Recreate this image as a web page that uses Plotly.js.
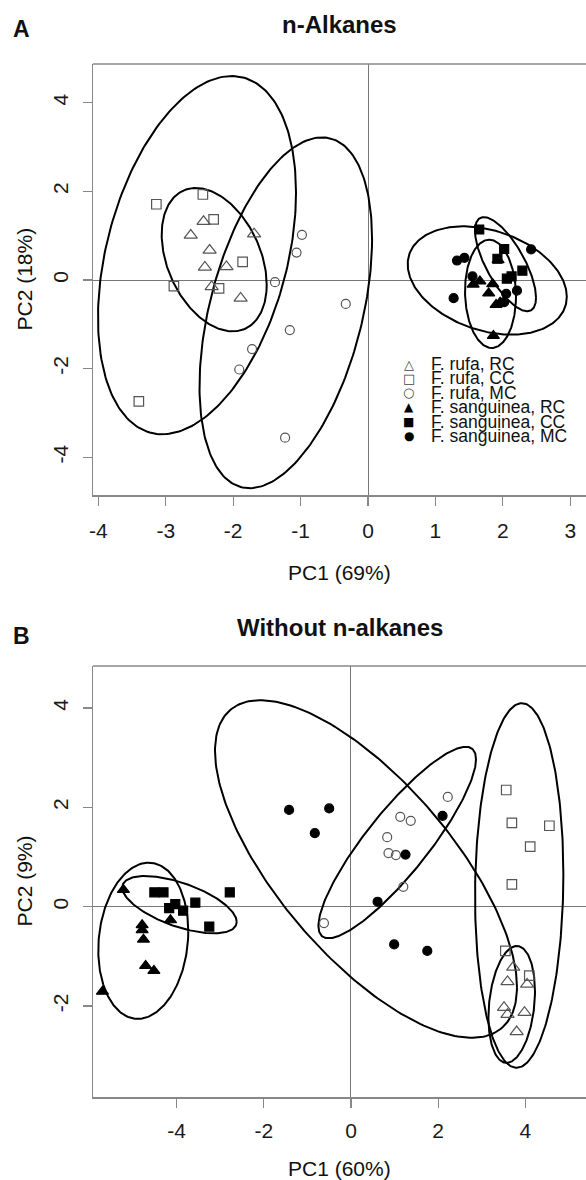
<!DOCTYPE html>
<html>
<head>
<meta charset="utf-8">
<script src="https://cdn.plot.ly/plotly-3.0.1.min.js"></script>
<style>html,body{margin:0;padding:0;background:#fff;} #chart{width:586px;height:1180px;}</style>
</head>
<body>
<div id="chart"></div>
<script>
// ---------- Panel A: n-Alkanes (PC1 69%, PC2 18%) ----------
const A_rufaRC_x = [-2.44, -2.63, -1.69, -2.35, -2.42, -2.10, -2.32, -1.89];
const A_rufaRC_y = [1.32, 1.01, 1.04, 0.67, 0.29, 0.30, -0.15, -0.41];
const A_rufaCC_x = [-3.14, -2.45, -2.29, -1.86, -2.88, -2.21, -3.40];
const A_rufaCC_y = [1.71, 1.93, 1.37, 0.41, -0.14, -0.19, -2.74];
const A_rufaMC_x = [-0.98, -1.06, -1.38, -0.33, -1.16, -1.72, -1.91, -1.23];
const A_rufaMC_y = [1.02, 0.62, -0.05, -0.54, -1.13, -1.56, -2.02, -3.56];
const A_sangRC_x = [1.93, 1.56, 1.66, 1.85, 1.79, 1.90, 1.96, 1.86];
const A_sangRC_y = [0.45, -0.10, -0.03, -0.09, -0.30, -0.56, -0.51, -1.26];
const A_sangCC_x = [1.65, 2.02, 1.92, 2.29, 2.13, 2.06];
const A_sangCC_y = [1.14, 0.70, 0.48, 0.21, 0.08, 0.03];
const A_sangMC_x = [2.42, 1.32, 1.43, 1.55, 2.21, 2.05, 1.27, 2.02];
const A_sangMC_y = [0.69, 0.44, 0.50, 0.08, -0.24, -0.31, -0.41, -0.50];

// ellipses A: centre, half-width, half-height, correlation
const A_ell_cx = [-2.282, -2.537, -1.22, 1.817, 2.040, 1.769];
const A_ell_cy = [0.459, 0.561, -0.74, -0.312, 0.357, -0.011];
const A_ell_hw = [0.779, 1.469, 1.28, 0.378, 0.4525, 1.180];
const A_ell_hh = [1.618, 4.043, 3.96, 1.222, 1.063, 1.222];
const A_ell_r  = [-0.35, 0.35, 0.42, -0.05, -0.71, -0.30];

// ---------- Panel B: Without n-alkanes (PC1 60%, PC2 9%) ----------
const B_rufaRC_x = [3.72, 3.59, 4.04, 3.51, 3.59, 3.98, 3.80];
const B_rufaRC_y = [-1.22, -1.51, -1.56, -2.03, -2.17, -2.13, -2.52];
const B_rufaCC_x = [3.56, 3.69, 4.55, 4.11, 3.69, 3.54, 4.09];
const B_rufaCC_y = [2.35, 1.69, 1.63, 1.21, 0.45, -0.89, -1.39];
const B_rufaMC_x = [2.22, 1.13, 1.37, 0.83, 0.86, 1.03, 1.20, -0.62];
const B_rufaMC_y = [2.21, 1.81, 1.73, 1.40, 1.08, 1.04, 0.40, -0.33];
const B_sangRC_x = [-5.22, -5.70, -4.79, -4.79, -4.76, -4.71, -4.52, -4.14];
const B_sangRC_y = [0.34, -1.71, -0.37, -0.47, -0.66, -1.19, -1.29, -0.27];
const B_sangCC_x = [-4.51, -4.30, -4.03, -4.17, -3.85, -3.57, -3.25, -2.78];
const B_sangCC_y = [0.29, 0.29, 0.05, -0.03, -0.08, 0.08, -0.40, 0.29];
const B_sangMC_x = [-1.42, -0.50, -0.83, 2.10, 1.25, 0.61, 0.99, 1.75];
const B_sangMC_y = [1.95, 1.98, 1.48, 1.83, 1.05, 0.10, -0.76, -0.89];

const B_ell_cx = [3.686, 3.858, 1.06, -4.764, -3.933, 0.344];
const B_ell_cy = [-1.968, 0.427, 1.292, -0.686, 0.04, 0.759];
const B_ell_hw = [0.534, 1.013, 1.807, 1.032, 1.312, 3.463];
const B_ell_hh = [1.177, 3.672, 1.928, 1.573, 0.577, 3.40];
const B_ell_r  = [0.22, 0.06, 0.87, 0.12, -0.60, -0.70];

// tick values
const A_xticks = [-4, -3, -2, -1, 0, 1, 2, 3];
const A_yticks = [-4, -2, 0, 2, 4];
const B_xticks = [-4, -2, 0, 2, 4];
const B_yticks = [-2, 0, 2, 4];

// legend
const legendSymbols = ['\u25B3', '\u25A1', '\u25CB', '\u25B2', '\u25A0', '\u25CF'];
const legendLabels = ['F. rufa, RC', 'F. rufa, CC', 'F. rufa, MC',
                      'F. sanguinea, RC', 'F. sanguinea, CC', 'F. sanguinea, MC'];

// ---------- build ----------
const W = 586, H = 1180;
const FONT = 'Liberation Sans, Arial, sans-serif';
const px = v => v / W;
const py = v => 1 - v / H;
const GREY = '#555';

const styles = {
  rufaRC: {symbol: 'triangle-up-open', size: 11.5, color: GREY},
  rufaCC: {symbol: 'square-open', size: 9.5, color: GREY},
  rufaMC: {symbol: 'circle-open', size: 9, color: GREY},
  sangRC: {symbol: 'triangle-up', size: 10.5, color: '#000'},
  sangCC: {symbol: 'square', size: 9, color: '#000'},
  sangMC: {symbol: 'circle', size: 9, color: '#000'}
};

function pts(x, y, st, name, xa, ya) {
  return {type: 'scatter', mode: 'markers', x: x, y: y, xaxis: xa, yaxis: ya,
    name: name, showlegend: false, hoverinfo: 'skip',
    marker: {symbol: st.symbol, size: st.size, color: st.color,
             line: {color: st.color, width: 1.2}}};
}

function ellipse(cx, cy, hw, hh, r, xa, ya) {
  const phi = Math.acos(r);
  const xs = [], ys = [];
  const n = 240;
  for (let i = 0; i <= n; i++) {
    const t = 2 * Math.PI * i / n;
    xs.push(cx + hw * Math.cos(t));
    ys.push(cy + hh * Math.cos(t - phi));
  }
  return {type: 'scatter', mode: 'lines', x: xs, y: ys, xaxis: xa, yaxis: ya,
    showlegend: false, hoverinfo: 'skip', line: {color: '#000', width: 2}};
}

const data = [];
for (let i = 0; i < A_ell_cx.length; i++)
  data.push(ellipse(A_ell_cx[i], A_ell_cy[i], A_ell_hw[i], A_ell_hh[i], A_ell_r[i], 'x', 'y'));
for (let i = 0; i < B_ell_cx.length; i++)
  data.push(ellipse(B_ell_cx[i], B_ell_cy[i], B_ell_hw[i], B_ell_hh[i], B_ell_r[i], 'x2', 'y2'));

data.push(pts(A_rufaRC_x, A_rufaRC_y, styles.rufaRC, legendLabels[0], 'x', 'y'));
data.push(pts(A_rufaCC_x, A_rufaCC_y, styles.rufaCC, legendLabels[1], 'x', 'y'));
data.push(pts(A_rufaMC_x, A_rufaMC_y, styles.rufaMC, legendLabels[2], 'x', 'y'));
data.push(pts(A_sangRC_x, A_sangRC_y, styles.sangRC, legendLabels[3], 'x', 'y'));
data.push(pts(A_sangCC_x, A_sangCC_y, styles.sangCC, legendLabels[4], 'x', 'y'));
data.push(pts(A_sangMC_x, A_sangMC_y, styles.sangMC, legendLabels[5], 'x', 'y'));

data.push(pts(B_rufaRC_x, B_rufaRC_y, styles.rufaRC, legendLabels[0], 'x2', 'y2'));
data.push(pts(B_rufaCC_x, B_rufaCC_y, styles.rufaCC, legendLabels[1], 'x2', 'y2'));
data.push(pts(B_rufaMC_x, B_rufaMC_y, styles.rufaMC, legendLabels[2], 'x2', 'y2'));
data.push(pts(B_sangRC_x, B_sangRC_y, styles.sangRC, legendLabels[3], 'x2', 'y2'));
data.push(pts(B_sangCC_x, B_sangCC_y, styles.sangCC, legendLabels[4], 'x2', 'y2'));
data.push(pts(B_sangMC_x, B_sangMC_y, styles.sangMC, legendLabels[5], 'x2', 'y2'));

const tickFont = {family: FONT, size: 21, color: '#1a1a1a'};
function common(domain, range, ticks, anchor) {
  return {domain: domain, range: range, anchor: anchor,
    tickmode: 'array', tickvals: ticks, ticktext: ticks.map(v => String(v)),
    showgrid: false, zeroline: true, zerolinecolor: '#777', zerolinewidth: 1,
    showline: true, linecolor: '#888', linewidth: 1.5, mirror: false,
    ticks: 'outside', ticklen: 9, tickwidth: 1.2, tickcolor: '#888',
    tickfont: tickFont, fixedrange: true};
}
function xax(domain, range, ticks, anchor, standoff) {
  return Object.assign(common(domain, range, ticks, anchor), {ticklabelstandoff: standoff});
}
function yax(domain, range, ticks, anchor) {
  return Object.assign(common(domain, range, ticks, anchor), {tickangle: -90, ticklabelstandoff: 6});
}

const annotations = [];
function ann(text, x, y, size, bold, extra) {
  const a = Object.assign({text: bold ? '<b>' + text + '</b>' : text,
    x: px(x), y: py(y), xref: 'paper', yref: 'paper', showarrow: false,
    xanchor: 'center', yanchor: 'middle',
    font: {family: FONT, size: size, color: '#111'}}, extra || {});
  annotations.push(a);
}
ann('A', 21, 29, 23, true);
ann('n-Alkanes', 339.5, 25, 24, true);
ann('PC1 (69%)', 339.5, 572, 21, false);
ann('PC2 (18%)', 24, 279.5, 21, false, {textangle: -90});
ann('B', 21, 636, 23, true);
ann('Without n-alkanes', 339.5, 627, 24, true);
ann('PC1 (60%)', 339.5, 1168, 21, false);
ann('PC2 (9%)', 24, 881.5, 21, false, {textangle: -90});

for (let i = 0; i < legendLabels.length; i++) {
  const yy = 364 + 14.4 * i;
  const open = i < 3;
  annotations.push({text: legendSymbols[i], x: px(409), y: py(yy), xref: 'paper', yref: 'paper',
    showarrow: false, xanchor: 'center', yanchor: 'middle',
    font: {family: 'DejaVu Sans', size: open ? 13 : 12, color: open ? '#444' : '#000'}});
  annotations.push({text: legendLabels[i], x: px(429), y: py(yy), xref: 'paper', yref: 'paper',
    showarrow: false, xanchor: 'left', yanchor: 'middle',
    font: {family: FONT, size: 17.5, color: '#111'}});
}

const shapes = [
  {type: 'line', xref: 'paper', yref: 'paper', x0: px(93), x1: 1.02, y0: py(64), y1: py(64),
   line: {color: '#888', width: 1.5}},
  {type: 'line', xref: 'paper', yref: 'paper', x0: px(93), x1: 1.02, y0: py(666), y1: py(666),
   line: {color: '#888', width: 1.5}}
];

const layout = {
  width: W, height: H, margin: {l: 0, r: 0, t: 0, b: 0},
  paper_bgcolor: '#fff', plot_bgcolor: '#fff', showlegend: false,
  font: {family: FONT},
  xaxis: xax([px(93), 1], [-4.08, 3.234], A_xticks, 'y', 7),
  yaxis: yax([py(495), py(64)], [-4.853, 4.876], A_yticks, 'x'),
  xaxis2: xax([px(93), 1], [-5.917, 5.39], B_xticks, 'y2', 5),
  yaxis2: yax([py(1097), py(666)], [-3.833, 4.848], B_yticks, 'x2'),
  annotations: annotations,
  shapes: shapes
};

Plotly.newPlot('chart', data, layout, {staticPlot: true, displayModeBar: false});
</script>
</body>
</html>
